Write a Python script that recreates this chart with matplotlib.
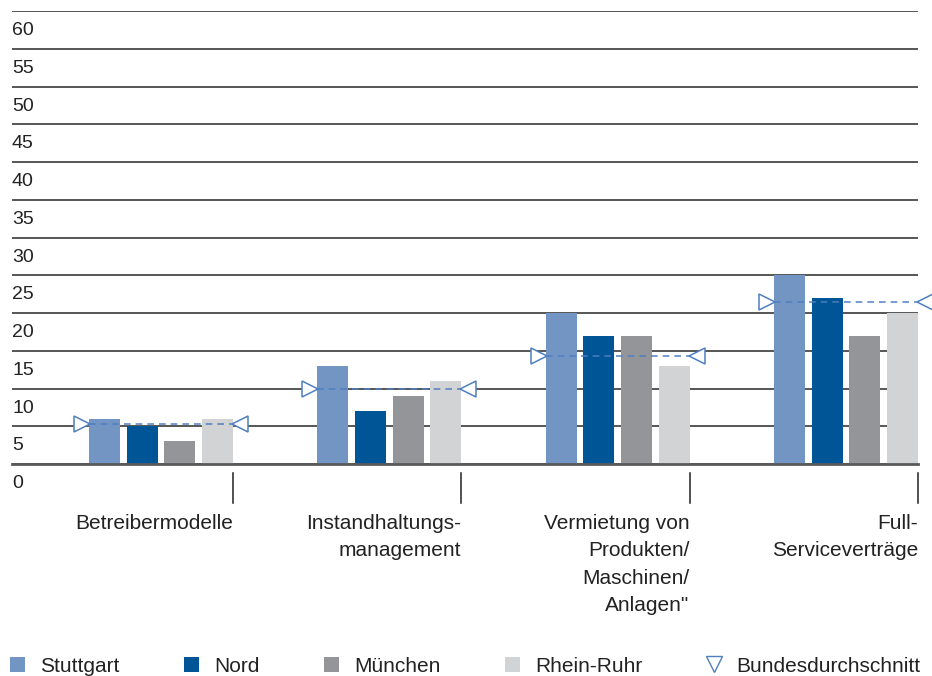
import numpy as np
import matplotlib
matplotlib.use("Agg")
import matplotlib.pyplot as plt
import matplotlib.transforms as mtransforms
from matplotlib.patches import Patch
from matplotlib.lines import Line2D

# data
categories = ['Betreibermodelle', 'Instandhaltungs-\nmanagement',
              'Vermietung von\nProdukten/\nMaschinen/\nAnlagen"', 'Full-\nServiceverträge']
series_names = ['Stuttgart', 'Nord', 'München', 'Rhein-Ruhr']
stuttgart = [6, 13, 20, 25]
nord = [5, 7, 17, 22]
muenchen = [3, 9, 17, 17]
rhein_ruhr = [6, 11, 13, 20]
bundesschnitt = [5.3, 10, 14.3, 21.4]
yticks = list(range(0, 61, 5))

colors = ['#7395c3', '#005596', '#939598', '#d1d3d4']
avg_color = '#4f7fc0'

label_font = ['Liberation Sans Narrow', 'Liberation Sans', 'DejaVu Sans']
num_font = ['Liberation Sans', 'DejaVu Sans']

fig = plt.figure(figsize=(9.32, 6.76), dpi=100)
ax = fig.add_axes([12 / 932, (676 - 464) / 676, (918 - 12) / 932, (464 - 11) / 676])

x = np.arange(len(categories))
step = 0.165
width = 0.136
for k, vals in enumerate([stuttgart, nord, muenchen, rhein_ruhr]):
    ax.bar(x + (k - 1.5) * step, vals, width=width, color=colors[k], zorder=2)

# Bundesdurchschnitt: dashed line with open triangles
half = 1.5 * step + width / 2
for xi, v in zip(x, bundesschnitt):
    ax.plot([xi - half, xi + half], [v, v], ls=(0, (4, 3)), color=avg_color,
            lw=1.2, alpha=0.9, zorder=4, clip_on=False)
    ax.plot([xi - half - 0.031], [v], marker='>', ms=11, mfc='white',
            mec=avg_color, mew=1.1, ls='none', zorder=5, clip_on=False)
    ax.plot([xi + half + 0.031], [v], marker='<', ms=11, mfc='white',
            mec=avg_color, mew=1.1, ls='none', zorder=5, clip_on=False)

ax.set_xlim(-0.653, 3.316)
ax.set_ylim(0, 60)
ax.set_yticks(yticks)
ax.set_xticks([])
ax.tick_params(axis='y', length=0, labelleft=False)
ax.yaxis.grid(True, color='#3a3a3a', lw=1.2, zorder=0)
ax.set_axisbelow(True)
for s in ['top', 'left', 'right']:
    ax.spines[s].set_visible(False)
ax.spines['bottom'].set_color('#58595b')
ax.spines['bottom'].set_linewidth(2)
ax.spines['bottom'].set_zorder(3)

# y labels sit below their gridline
ytrans = mtransforms.blended_transform_factory(ax.transAxes, ax.transData)
for t in yticks:
    ax.text(0, t - 2.6, str(t), transform=ytrans, ha='left', va='center',
            fontsize=14, family=num_font, color='#222222')

# category separators and labels
trans = mtransforms.blended_transform_factory(ax.transData, ax.transAxes)
ax_h = 464 - 11
for xi, lab in zip(x, categories):
    edge = xi + half
    ax.plot([edge, edge], [-9 / ax_h, -39 / ax_h], color='#222222', lw=1.1,
            transform=trans, clip_on=False)
    ax.text(edge, -50 / ax_h, lab, transform=trans, ha='right', va='top',
            fontsize=15, family=label_font, color='#222222', linespacing=1.55,
            multialignment='right')

handles = [Patch(facecolor=c, edgecolor='none') for c in colors]
handles.append(Line2D([], [], marker='v', ls='none', ms=11, mfc='white', mec=avg_color, mew=1.0))
fig.legend(handles, series_names + ['Bundesdurchschnitt'], loc='center left',
           bbox_to_anchor=(10 / 932, 1 - 666 / 676), ncol=5, frameon=False,
           handlelength=0.72, handleheight=0.72, handletextpad=0.72,
           columnspacing=3.1, borderpad=0, borderaxespad=0,
           prop={'family': label_font, 'size': 15}, labelcolor='#222222')

fig.savefig('out.png', dpi=100, facecolor='white')
